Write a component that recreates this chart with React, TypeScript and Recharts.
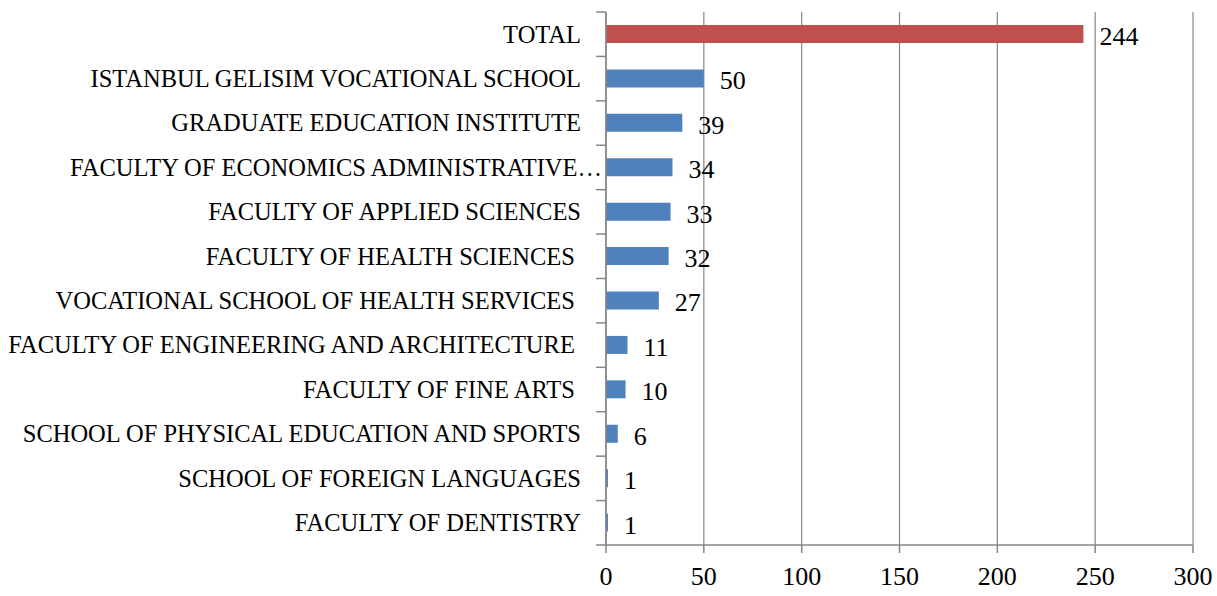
import React from 'react';
import { BarChart, Bar, XAxis, YAxis, CartesianGrid, LabelList, Cell } from 'recharts';

const categories = [
  'TOTAL',
  'ISTANBUL GELISIM VOCATIONAL SCHOOL',
  'GRADUATE EDUCATION INSTITUTE',
  'FACULTY OF ECONOMICS ADMINISTRATIVE…',
  'FACULTY OF APPLIED SCIENCES',
  'FACULTY OF HEALTH SCIENCES ',
  'VOCATIONAL SCHOOL OF HEALTH SERVICES ',
  'FACULTY OF ENGINEERING AND ARCHITECTURE ',
  'FACULTY OF FINE ARTS ',
  'SCHOOL OF PHYSICAL EDUCATION AND SPORTS',
  'SCHOOL OF FOREIGN LANGUAGES',
  'FACULTY OF DENTISTRY',
];
const values = [244, 50, 39, 34, 33, 32, 27, 11, 10, 6, 1, 1];
const xTicks = [0, 50, 100, 150, 200, 250, 300];

const BLUE = '#4F81BD';
const RED = '#C0504D';
const GRID = '#868686';
const FONT = '"Liberation Serif", "DejaVu Serif", serif';
const CAT_FONT_SIZE = 24.5;
const NUM_FONT_SIZE = 26;

const data = categories.map((name, i) => ({ name, value: values[i] }));

const W = 1217;
const H = 596;
const MARGIN = { top: 12, right: 24, bottom: 0, left: 0 };
const X_AXIS_H = 51;
const Y_AXIS_W = 606;
const PLOT_H = H - MARGIN.top - MARGIN.bottom - X_AXIS_H;
const HALF_BAND = PLOT_H / categories.length / 2;

function CategoryTick(props: any) {
  const { x, y, payload, index } = props;
  const label: string = payload.value;
  const truncated = label.endsWith('…');
  const isLast = index === categories.length - 1;
  return (
    <g>
      <line x1={x - 10} x2={x} y1={y - HALF_BAND} y2={y - HALF_BAND} stroke={GRID} strokeWidth={1.5} />
      {isLast && (
        <line x1={x - 10} x2={x} y1={y + HALF_BAND} y2={y + HALF_BAND} stroke={GRID} strokeWidth={1.5} />
      )}
      <text
        x={truncated ? x - 4 : x - 25}
        y={y}
        dy="0.34em"
        textAnchor="end"
        fill="#000"
        fontSize={CAT_FONT_SIZE}
        fontFamily={FONT}
        style={{ whiteSpace: 'pre' }}
      >
        {label}
      </text>
    </g>
  );
}

function ValueLabel(props: any) {
  const { x, y, width, height, value } = props;
  return (
    <text
      x={x + width + 16}
      y={y + height / 2}
      dy="0.42em"
      textAnchor="start"
      fill="#000"
      fontSize={NUM_FONT_SIZE}
      fontFamily={FONT}
    >
      {value}
    </text>
  );
}

export default function App() {
  return (
    <div style={{ position: 'absolute', left: 0, top: 0, background: '#fff' }}>
      <BarChart width={W} height={H} data={data} layout="vertical" margin={MARGIN} barSize={18}>
        <CartesianGrid horizontal={false} vertical={true} stroke={GRID} strokeWidth={1.2} />
        <XAxis
          type="number"
          domain={[0, 300]}
          ticks={xTicks}
          height={X_AXIS_H}
          stroke={GRID}
          strokeWidth={1.5}
          tickSize={8}
          tickMargin={14}
          tick={{ fill: '#000', fontSize: NUM_FONT_SIZE, fontFamily: FONT }}
        />
        <YAxis
          type="category"
          dataKey="name"
          width={Y_AXIS_W}
          stroke={GRID}
          strokeWidth={1.5}
          tickLine={false}
          tickSize={0}
          tickMargin={0}
          interval={0}
          tick={<CategoryTick />}
        />
        <Bar dataKey="value" isAnimationActive={false}>
          {data.map((d, i) => (
            <Cell key={i} fill={d.name === 'TOTAL' ? RED : BLUE} />
          ))}
          <LabelList dataKey="value" content={<ValueLabel />} />
        </Bar>
      </BarChart>
    </div>
  );
}
